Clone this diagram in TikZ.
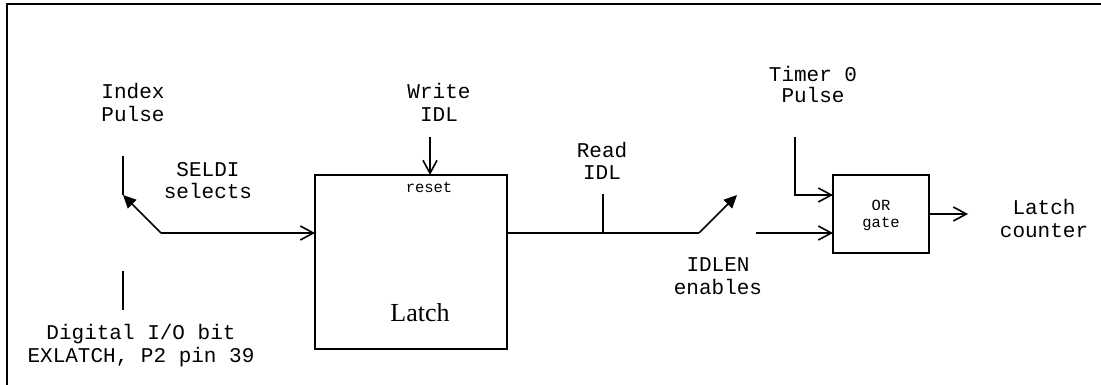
\documentclass[tikz,border=0pt]{standalone}
\usepackage{fontspec}
\setmainfont{Liberation Serif}
\setmonofont{Liberation Mono}
\usetikzlibrary{arrows.meta}
\begin{document}
\begin{tikzpicture}[x=1pt,y=-1pt,line width=1.6pt,
  lbl/.style={font=\ttfamily\fontsize{21}{23}\selectfont,align=center,anchor=base,inner sep=0pt},
  small/.style={font=\ttfamily\fontsize{15.5}{17}\selectfont,align=center,anchor=base,inner sep=0pt},
  blk/.style={draw,line width=1.6pt,inner sep=0pt,outer sep=0pt},
  open/.style={-{Straight Barb[length=13pt,width=14pt]}},
  filled/.style={-{Triangle[length=13pt,width=12pt]}}]
\useasboundingbox (0,0) rectangle (1101,385);
% frame (cut at right and bottom)
\draw[line width=2pt] (7,385) -- (7,4) -- (1101,4);
% blocks
\node[blk,minimum width=192pt,minimum height=174pt] (latch) at (411,262) {};
\node[blk,minimum width=96pt,minimum height=78pt] (orgate) at (881,214) {};
% labels (anchor = baseline of last line)
\node[lbl] (index) at (133,122) {Index\\Pulse};
\node[lbl] (seldi) at (208,199) {SELDI\\selects};
\node[lbl] (dig) at (141,362) {Digital I/O bit\\EXLATCH, P2 pin 39};
\node[lbl] (write) at (439,122) {Write\\IDL};
\node[small] (reset) at (429,193) {reset};
\node[font=\fontsize{26}{28}\selectfont,anchor=base,inner sep=0pt] (latchtxt) at (420,321) {Latch};
\node[lbl] (read) at (602,180) {Read\\IDL};
\node[lbl] (idlen) at (718,294) {IDLEN\\enables};
\node[lbl,font=\ttfamily\fontsize{21}{21.6}\selectfont] (timer) at (813,103) {Timer 0\\Pulse};
\node[small] (ortxt) at (881,227) {OR\\gate};
\node[lbl] (lcount) at (1044,237) {Latch\\counter};
% coordinates
\coordinate (ipa) at (123,156);
\coordinate (ipb) at (123,195);
\coordinate (sw1) at (161,233);
\coordinate (dga) at (123,271);
\coordinate (dgb) at (123,310);
\coordinate (wr) at (430,137);
\coordinate (rda) at (603,194);
\coordinate (rdb) at (603,233);
\coordinate (sw2) at (699,233);
\coordinate (sw2t) at (737,195);
\coordinate (ena) at (756,233);
\coordinate (tma) at (795,137);
\coordinate (tmb) at (795,195);
\coordinate (outc) at (968,214);
% connectors
\draw (ipa) -- (ipb);
\draw[filled] (sw1) -- (ipb);
\draw[open] (sw1) -- (sw1 -| latch.west);
\draw (dga) -- (dgb);
\draw[open] (wr) -- (wr |- latch.north);
\draw (latch.east |- sw2) -- (sw2);
\draw[filled] (sw2) -- (sw2t);
\draw (rda) -- (rdb);
\draw[open] (ena) -- (ena -| orgate.west);
\draw[open] (tma) -- (tmb) -- (tmb -| orgate.west);
\draw[open] (orgate.east) -- (outc);
\end{tikzpicture}
\end{document}
